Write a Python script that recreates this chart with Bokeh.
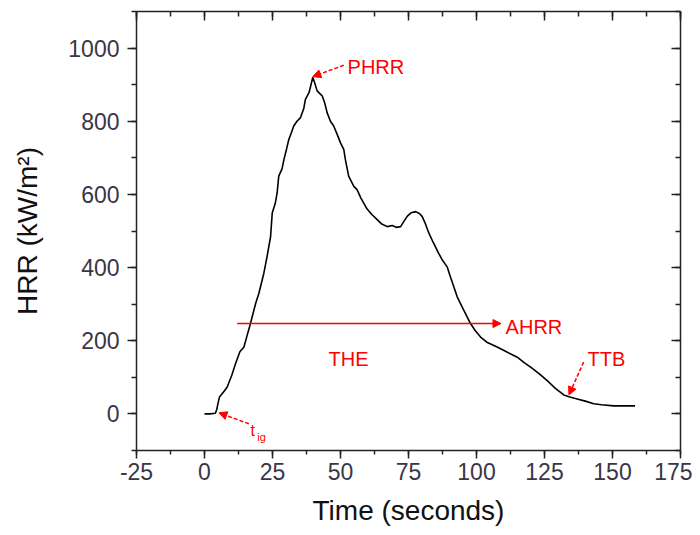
from bokeh.plotting import figure
from bokeh.models import LinearAxis, SingleIntervalTicker, Arrow, NormalHead, Range1d, CustomJSTickFormatter
from bokeh.core.properties import value
from bokeh.embed import file_html
from bokeh.resources import INLINE

# ---- data ----
time_s = [0, 2, 4, 4.5, 5, 5.5, 7, 8.3, 10, 11.4, 13, 14.5, 15.5, 16.9, 18.8, 20, 21.8, 23, 24.3, 24.9,
          26, 26.7, 27.3, 28.5, 29.2, 30.2, 31, 32, 32.8, 34, 35.3, 36.5, 37.1, 38.4, 39, 39.8, 40.5, 41.4,
          42.5, 43.3, 44.2, 45.1, 46.3, 47.5, 49, 50, 51.2, 51.8, 53, 54.9, 56.1, 57.5, 59.8, 61.5, 63.5,
          65, 67.2, 69, 70.5, 72.1, 73.2, 74.5, 76, 77.6, 79, 80, 81.2, 82.5, 84, 86.1, 87.5, 89.2, 90.4,
          92, 92.9, 95.3, 97.8, 99.5, 101.5, 104, 107.6, 111, 115, 117.5, 119.9, 123, 126, 129, 132.1,
          134, 137, 140, 143.1, 146, 150.5, 154, 158.3]
hrr = [0, 0, 2, 12, 30, 46, 60, 73, 105, 137, 170, 183, 210, 247, 302, 330, 384, 430, 485, 549,
       575, 604, 650, 670, 695, 725, 750, 770, 787, 800, 810, 835, 860, 878, 895, 920, 905, 883,
       875, 869, 850, 823, 800, 787, 760, 741, 723, 695, 650, 622, 613, 590, 560, 545, 531,
       520, 512, 515, 510, 512, 525, 540, 550, 553, 548, 540, 520, 494, 470, 439, 420, 402, 375,
       340, 320, 284, 247, 228, 210, 195, 183, 170, 155, 140, 128, 110, 91, 70, 52,
       47, 41, 35, 28, 25, 22, 22, 22]

# annotation labels (position in data units)
ann_labels = ["PHRR", "AHRR", "THE", "TTB"]
ann_x = [52.6, 110.7, 45.6, 140.8]
ann_y = [948, 237, 150, 150]

tig_main = ["t"]
tig_main_x = [16.9]
tig_main_y = [-46]
tig_sub = ["ig"]
tig_sub_x = [19.4]
tig_sub_y = [-64]

# arrows: start -> end (data units)
arrow_x0 = [51.2, 12, 139.4, 16.3]
arrow_y0 = [953, 247, 142, -27]
arrow_x1 = [39.8, 109, 134.0, 5.3]
arrow_y1 = [922, 247, 52, 3]
arrow_dash = ["4 2", "solid", "4 2", "4 2"]

x_ticks_interval = 25
y_ticks_interval = 200

# ---- figure ----
FONT = "Liberation Sans"
p = figure(width=692, height=533, x_range=Range1d(-25, 175), y_range=Range1d(-100, 1100),
           output_backend="svg", toolbar_location=None,
           min_border_left=136, min_border_right=12, min_border_top=11, min_border_bottom=83,
           x_axis_label="Time (seconds)", y_axis_label="HRR (kW/m²)")
p.grid.visible = False
p.outline_line_color = None
p.background_fill_color = "white"
p.border_fill_color = "white"

xt = SingleIntervalTicker(interval=x_ticks_interval, num_minor_ticks=2)
yt = SingleIntervalTicker(interval=y_ticks_interval, num_minor_ticks=2)

for ax, tick_out, minor_out in ((p.xaxis[0], 8, 4), (p.yaxis[0], 9, 5)):
    ax.axis_line_width = 1.5
    ax.axis_line_color = "#222222"
    ax.major_tick_line_width = 1.5
    ax.minor_tick_line_width = 1.5
    ax.major_tick_line_color = "#222222"
    ax.minor_tick_line_color = "#222222"
    ax.major_tick_in = 0
    ax.major_tick_out = tick_out
    ax.minor_tick_in = 0
    ax.minor_tick_out = minor_out
    ax.major_label_text_font = FONT
    ax.major_label_text_font_size = "23px"
    ax.major_label_text_color = "#3a3646"
    ax.axis_label_text_font = FONT
    ax.axis_label_text_font_size = "28px"
    ax.axis_label_text_font_style = "normal"
    ax.axis_label_text_color = "#111111"

p.xaxis[0].ticker = xt
p.yaxis[0].ticker = yt
p.xaxis[0].formatter = CustomJSTickFormatter(code="return tick.toString();")
p.xaxis[0].major_label_standoff = 4
p.xaxis[0].axis_label_standoff = 12
p.yaxis[0].major_label_standoff = 8
p.yaxis[0].axis_label_standoff = 22

# mirrored axes (ticks inward, no labels)
top = LinearAxis(ticker=SingleIntervalTicker(interval=x_ticks_interval, num_minor_ticks=2))
right = LinearAxis(ticker=SingleIntervalTicker(interval=y_ticks_interval, num_minor_ticks=2))
for ax in (top, right):
    ax.formatter = CustomJSTickFormatter(code="return '';")
    ax.major_label_standoff = 0
    ax.axis_line_width = 1.5
    ax.axis_line_color = "#222222"
    ax.major_tick_line_width = 1.5
    ax.minor_tick_line_width = 1.5
    ax.major_tick_line_color = "#222222"
    ax.minor_tick_line_color = "#222222"
    ax.major_tick_in = 9
    ax.major_tick_out = 0
    ax.minor_tick_in = 5
    ax.minor_tick_out = 0
p.add_layout(top, "above")
p.add_layout(right, "right")

# curve
p.line(time_s, hrr, line_color="black", line_width=1.6)

# arrows
for x0, y0, x1, y1, d in zip(arrow_x0, arrow_y0, arrow_x1, arrow_y1, arrow_dash):
    p.add_layout(Arrow(end=NormalHead(size=8, fill_color="red", line_color="red", line_width=1),
                       x_start=x0, y_start=y0, x_end=x1, y_end=y1,
                       line_color="red", line_width=1.5, line_dash=d))

# labels
p.text(x=ann_x, y=ann_y, text=ann_labels, text_font=value(FONT), text_font_size="20px",
       text_color="red", text_baseline="alphabetic", text_align="left")
p.text(x=tig_main_x, y=tig_main_y, text=tig_main, text_font=value(FONT), text_font_size="16px",
       text_color="red", text_baseline="alphabetic", text_align="left")
p.text(x=tig_sub_x, y=tig_sub_y, text=tig_sub, text_font=value(FONT), text_font_size="11px",
       text_color="red", text_baseline="alphabetic", text_align="left")

open("out.html", "w").write(file_html(p, INLINE))
